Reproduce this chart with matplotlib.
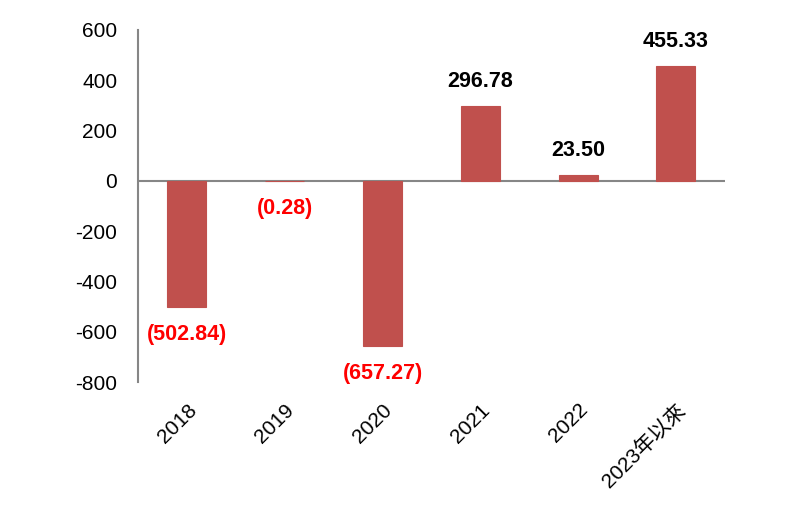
import matplotlib
matplotlib.use("Agg")
import matplotlib.pyplot as plt
from matplotlib.transforms import ScaledTranslation

plt.rcParams['font.family'] = ['Liberation Sans', 'Noto Sans CJK TC', 'DejaVu Sans']
plt.rcParams['axes.unicode_minus'] = False

categories = ['2018', '2019', '2020', '2021', '2022', '2023年以來']
values = [-502.84, -0.28, -657.27, 296.78, 23.50, 455.33]

bar_color = '#C0504D'
axis_color = '#868686'

fig = plt.figure(figsize=(8, 5.17), dpi=100)
ax = fig.add_axes([0.1725, 0.261, 0.906 - 0.1725, 0.942 - 0.261])

x = range(len(categories))
ax.bar(x, values, width=0.4, color=bar_color, edgecolor=bar_color, linewidth=0.8, zorder=2)
ax.axhline(0, color=axis_color, linewidth=1.5, zorder=1)

for i, v in enumerate(values):
    if v >= 0:
        ax.annotate(f'{v:.2f}', (i, v), xytext=(0, 10), textcoords='offset points',
                    ha='center', va='bottom', fontsize=15.5, fontweight='bold', color='black')
    else:
        ax.annotate(f'({-v:.2f})', (i, v), xytext=(0, -12), textcoords='offset points',
                    ha='center', va='top', fontsize=15.5, fontweight='bold', color='red')

ax.set_xlim(-0.5, len(categories) - 0.5)
ax.set_ylim(-800, 600)
ax.set_yticks(range(-800, 601, 200))
ax.set_xticks(list(x))
ax.set_xticklabels(categories, rotation=45, ha='right', rotation_mode='anchor')
shift = ScaledTranslation(-5 / 100, 0, fig.dpi_scale_trans)
for lbl in ax.get_xticklabels():
    lbl.set_transform(lbl.get_transform() + shift)

for s in ['top', 'right', 'bottom']:
    ax.spines[s].set_visible(False)
ax.spines['left'].set_color(axis_color)
ax.spines['left'].set_linewidth(1.5)
ax.tick_params(axis='both', length=0, labelsize=15, colors='black')
ax.tick_params(axis='y', pad=15)
ax.tick_params(axis='x', pad=13)

fig.savefig('out.png', dpi=100)
